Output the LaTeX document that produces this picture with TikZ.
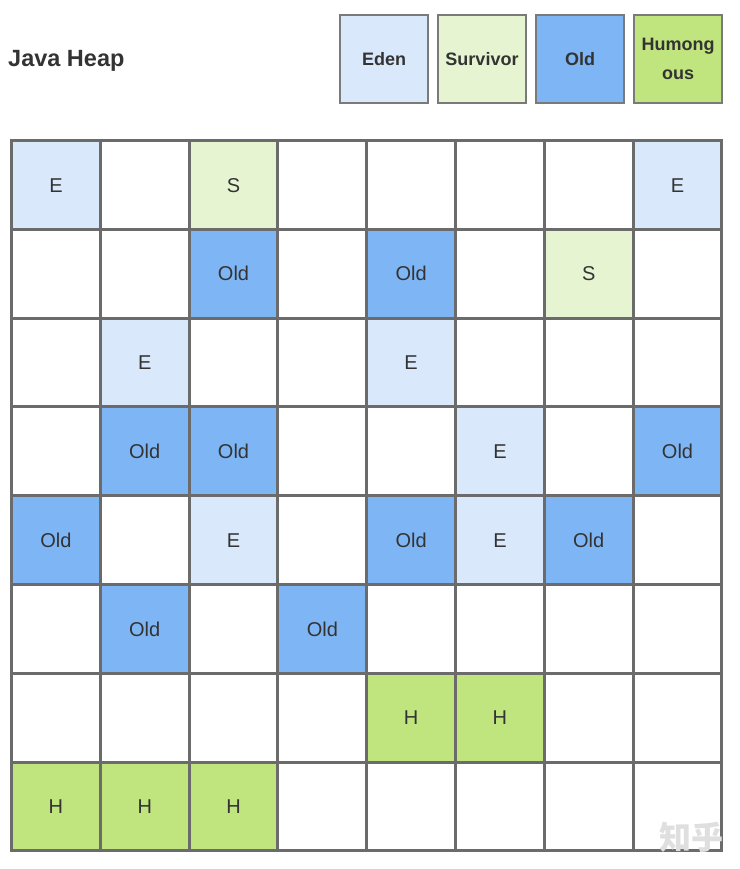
\documentclass[tikz,border=0pt]{standalone}
\usepackage{fontspec}
\setmainfont{Liberation Sans}
\newfontfamily\cjk{Noto Sans CJK SC}
\usetikzlibrary{matrix,positioning}
\definecolor{edenblue}{HTML}{DAE8FC}
\definecolor{survgreen}{HTML}{E6F4D1}
\definecolor{oldblue}{HTML}{7EB6F5}
\definecolor{humgreen}{HTML}{C0E57E}
\definecolor{gridgray}{HTML}{6B6B6B}
\definecolor{labeltext}{HTML}{333333}
\tikzset{
  cell/.style   = { draw=gridgray, line width=3pt, fill=white, minimum size=88.8pt,
                    inner sep=0pt, outer sep=0pt, anchor=center, text=labeltext,
                    text height=14.3pt, text depth=0pt,
                    font=\fontsize{20}{23}\selectfont },
  eden/.style   = { fill=edenblue },
  surv/.style   = { fill=survgreen },
  old/.style    = { fill=oldblue },
  hum/.style    = { fill=humgreen },
  legend/.style = { draw=gridgray!90, line width=2pt, minimum size=88pt,
                    inner sep=0pt, outer sep=0pt, align=center, text=labeltext,
                    font=\bfseries\fontsize{18}{29}\selectfont }
}

\begin{document}
\begin{tikzpicture}
  \useasboundingbox (0,0) rectangle (739pt,-869pt);

  \node[anchor=base west, inner sep=0pt, text=labeltext,
        font=\bfseries\fontsize{23.5}{26}\selectfont] (title) at (8pt,-67pt) {Java Heap};

  % legend
  \node[legend, fill=edenblue] (eden) at (384pt,-59pt) {Eden};
  \node[legend, fill=survgreen, right=10pt of eden] (survivor) {Survivor};
  \node[legend, fill=oldblue, right=10pt of survivor] (old) {Old};
  \node[legend, fill=humgreen, right=10pt of old] (humongous) {Humong\\ous};

  % regions
  \matrix (heap)
    [
      matrix of nodes,
      nodes in empty cells,
      column sep = -3pt,
      row sep    = -3pt,
      nodes      = { cell },
      anchor     = north west,
    ] at (6.5pt,-135.5pt)
    {
      |[eden]| E &  & |[surv]| S &  &  &  &  & |[eden]| E \\
       &  & |[old]| Old &  & |[old]| Old &  & |[surv]| S &  \\
       & |[eden]| E &  &  & |[eden]| E &  &  &  \\
       & |[old]| Old & |[old]| Old &  &  & |[eden]| E &  & |[old]| Old \\
      |[old]| Old &  & |[eden]| E &  & |[old]| Old & |[eden]| E & |[old]| Old &  \\
       & |[old]| Old &  & |[old]| Old &  &  &  &  \\
       &  &  &  & |[hum]| H & |[hum]| H &  &  \\
      |[hum]| H & |[hum]| H & |[hum]| H &  &  &  &  &  \\
    };

  \node[anchor=base east, inner sep=0pt, text=gray!25,
        font=\cjk\bfseries\fontsize{32}{32}\selectfont] (mark) at (724pt,-849pt) {知乎};
\end{tikzpicture}
\end{document}
